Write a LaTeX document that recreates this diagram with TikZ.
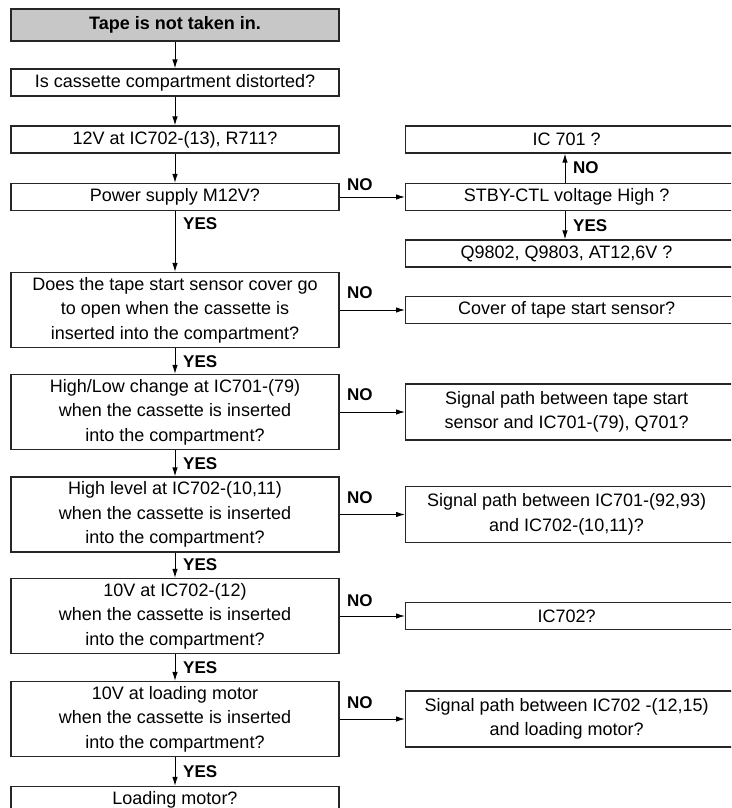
\documentclass[tikz,border=0pt]{standalone}
\usepackage{fontspec}
\setmainfont{Liberation Sans}
\usetikzlibrary{arrows.meta}
\begin{document}
\begin{tikzpicture}[x=1pt,y=-1pt,
  box/.style={draw=black!85, line width=1.2pt, minimum width=328pt, minimum height=27pt, inner sep=0pt, align=center, font=\fontsize{18}{24.5}\selectfont},
  tall/.style={box, minimum height=75pt},
  rbox/.style={draw=black!85, line width=1.2pt, anchor=west, minimum height=27pt, inner sep=0pt, font=\fontsize{18}{24.5}\selectfont},
  arr/.style={draw=black, line width=1pt, -{Latex[length=9pt,width=5.5pt]}},
  lab/.style={font=\fontsize{17}{17}\bfseries\selectfont, inner sep=0pt, anchor=west},
]
\useasboundingbox (0,0) rectangle (731,808);
\clip (0,0) rectangle (731,808);
\coordinate (ax) at (565,0);
% left column
\node[box, fill=black!22, line width=2.4pt, minimum height=32pt, font=\fontsize{18}{22}\bfseries\selectfont] (t) at (175,25) {Tape is not taken in.};
\node[box] (b2) at (175,82.5) {Is cassette compartment distorted?};
\node[box] (b3) at (175,139.5) {12V at IC702-(13), R711?};
\node[box] (b4) at (175,197) {Power supply M12V?};
\node[tall] (does) at (175,310) {Does the tape start sensor cover go\\to open when the cassette is\\inserted into the compartment?};
\node[tall] (hl) at (175,412) {High/Low change at IC701-(79)\\when the cassette is inserted\\into the compartment?};
\node[tall] (hv) at (175,514.5) {High level at IC702-(10,11)\\when the cassette is inserted\\into the compartment?};
\node[tall] (tv) at (175,616) {10V at IC702-(12)\\when the cassette is inserted\\into the compartment?};
\node[tall] (lm) at (175,719) {10V at loading motor\\when the cassette is inserted\\into the compartment?};
\node[box] (ld) at (175,800) {Loading motor?};
% right column
\node[rbox] (ic) at (405,139.5) {\parbox{322pt}{\centering IC 701 ?}\kern16pt};
\node[rbox] (st) at (405,197) {\parbox{322pt}{\centering STBY-CTL voltage High ?}\kern16pt};
\node[rbox] (q) at (405,253.5) {\parbox{322pt}{\centering Q9802, Q9803, AT12,6V ?}\kern16pt};
\node[rbox] (cv) at (405,310) {\parbox{322pt}{\centering Cover of tape start sensor?}\kern16pt};
\node[rbox, minimum height=56pt] (s1) at (405,412) {\parbox{322pt}{\centering Signal path between tape start\\sensor and IC701-(79), Q701?}\kern16pt};
\node[rbox, minimum height=56pt] (s2) at (405,514.5) {\parbox{322pt}{\centering Signal path between IC701-(92,93)\\and IC702-(10,11)?}\kern16pt};
\node[rbox] (i2) at (405,616) {\parbox{322pt}{\centering IC702?}\kern16pt};
\node[rbox, minimum height=56pt] (s3) at (405,719) {\parbox{322pt}{\centering Signal path between IC702 -(12,15)\\and loading motor?}\kern16pt};
% vertical connectors
\draw[arr] (t) -- (b2);
\draw[arr] (b2) -- (b3);
\draw[arr] (b3) -- (b4);
\draw[arr] (b4) -- (does);
\draw[arr] (does) -- (hl);
\draw[arr] (hl) -- (hv);
\draw[arr] (hv) -- (tv);
\draw[arr] (tv) -- (lm);
\draw[arr] (lm) -- (ld);
\draw[arr] (st.north -| ax) -- (ic.south -| ax);
\draw[arr] (st.south -| ax) -- (q.north -| ax);
% horizontal connectors
\draw[arr] (b4.east) -- (st.west);
\draw[arr] (does.east) -- (cv.west);
\draw[arr] (hl.east) -- (s1.west);
\draw[arr] (hv.east) -- (s2.west);
\draw[arr] (tv.east) -- (i2.west);
\draw[arr] (lm.east) -- (s3.west);
% labels
\node[lab] (n1) at (347,185) {NO};
\node[lab] (n2) at (573,168) {NO};
\node[lab] (y2) at (573,226) {YES};
\node[lab] (y1) at (183,224) {YES};
\node[lab] (n3) at (347,293) {NO};
\node[lab] (y3) at (183,362) {YES};
\node[lab] (n4) at (347,395) {NO};
\node[lab] (y4) at (183,464) {YES};
\node[lab] (n5) at (347,498) {NO};
\node[lab] (y5) at (183,565) {YES};
\node[lab] (n6) at (347,601) {NO};
\node[lab] (y6) at (183,668) {YES};
\node[lab] (n7) at (347,703) {NO};
\node[lab] (y7) at (183,772) {YES};
\end{tikzpicture}
\end{document}
